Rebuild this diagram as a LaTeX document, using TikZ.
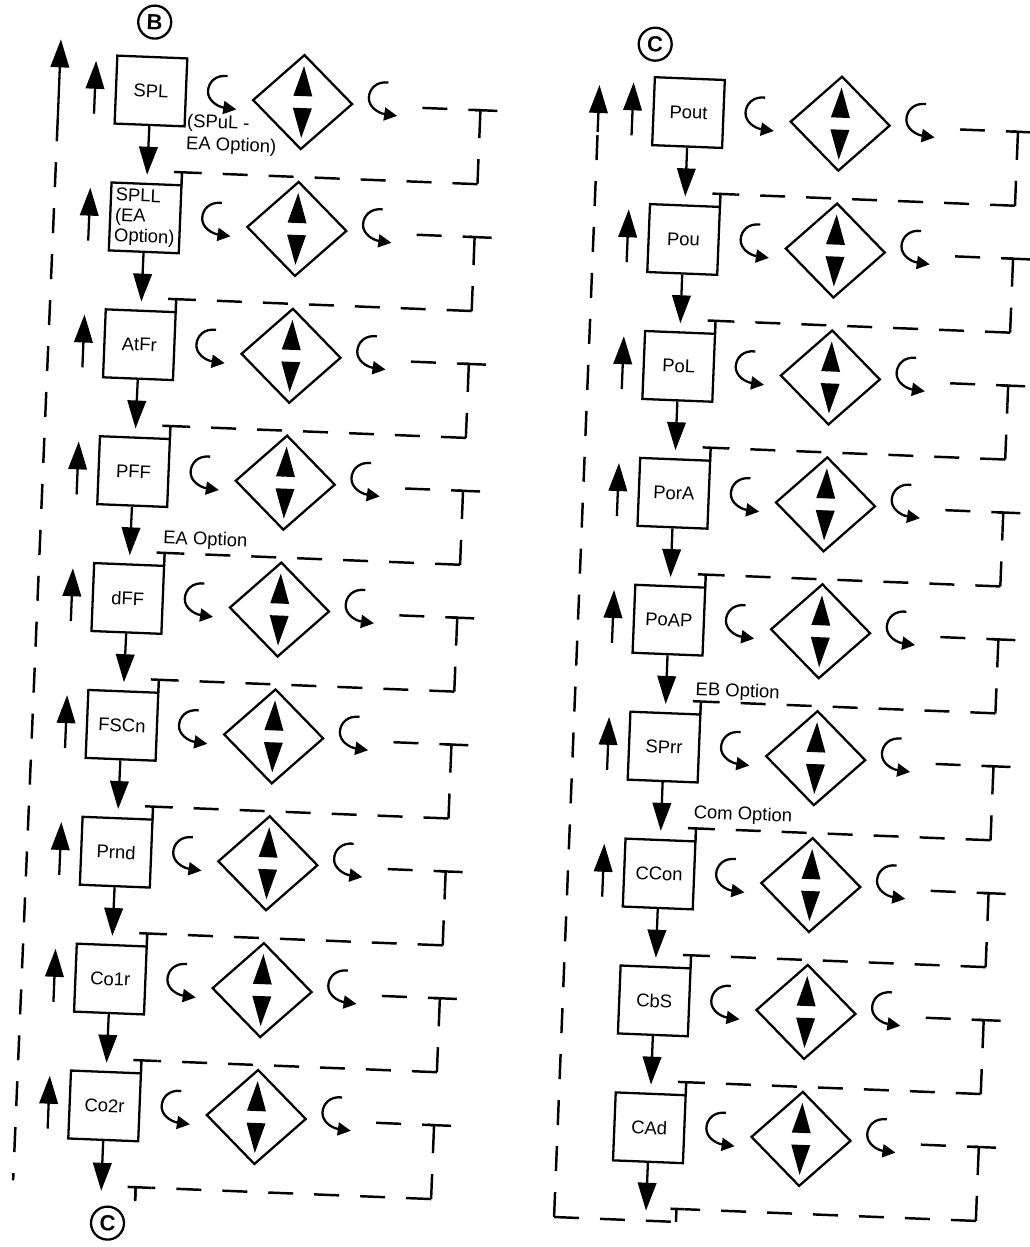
\documentclass[tikz,border=0pt]{standalone}
\usepackage{fontspec}
\setmainfont{Liberation Sans}
\usetikzlibrary{arrows.meta,shapes.geometric,calc}

\tikzset{
 bx/.style={draw, line width=1.3pt, minimum width=1.4cm, minimum height=1.36cm, inner sep=1pt,
   font=\fontsize{10.5}{11.5}\selectfont, align=left},
 dia/.style={draw, diamond, line width=1.3pt, minimum width=2cm, minimum height=1.9cm, inner sep=0pt},
 flow/.style={line width=1.3pt, -{Triangle[length=0.56cm,width=0.37cm]}},
 curv/.style={line width=1.3pt, -{Triangle[length=0.26cm,width=0.26cm]}},
 tee/.style={line width=1.4pt},
 dsh/.style={line width=1.4pt, dash pattern=on 0.5cm off 0.42cm},
 lbl/.style={font=\fontsize{10.5}{12.5}\selectfont, inner sep=0pt, align=left},
 circ/.style={draw, circle, line width=1.3pt, minimum size=0.66cm, inner sep=0pt, font=\fontsize{12.5}{12.5}\selectfont\bfseries},
}

% #1 name, #2 u, #3 v, #4 label
\newcommand{\mkrow}[4]{%
\begin{scope}[shift={(#2,#3)}]
 \node[bx] (#1) at (0,0) {#4};
 \draw[curv] (76,-18) .. controls (64,-19) and (57,-11) .. (57,-2) .. controls (57,7) and (67,13) .. (86,15);
 \node[dia] (#1d) at (152,5) {};
 \fill (152,-31) -- (161.5,-1) -- (142.5,-1) -- cycle;
 \fill (152,41) -- (161.5,11) -- (142.5,11) -- cycle;
 \draw[curv] (237,-18) .. controls (225,-19) and (218,-11) .. (218,-2) .. controls (218,7) and (228,13) .. (247,15);
 \coordinate (#1T) at (330,6);
 \coordinate (#1S) at (330,26);
 \coordinate (#1C) at (330,80);
 \draw[dsh] (272,6) -- (#1T);
 \draw[tee] (324,6) -- (347,6);
 \draw[tee] (#1T) -- (#1S);
 \draw[dsh] (#1C) -- (#1S);
\end{scope}}

% top T on the box's top right corner
\newcommand{\mktee}[3]{%
\begin{scope}[shift={(#2,#3)}]
 \coordinate (#1J) at (35,-47);
 \coordinate (#1R) at (51,-47);
 \draw[tee] (35,-34) -- (#1J);
 \draw[tee] (27,-47) -- (#1R);
\end{scope}}

% up arrow at the left of a box
\newcommand{\mkup}[3]{%
\begin{scope}[shift={(#2,#3)}]
 \coordinate (#1ua) at (-56,25);
 \coordinate (#1ub) at (-56,-28);
 \draw[flow] (#1ua) -- (#1ub);
\end{scope}}

\begin{document}
\begin{tikzpicture}[x=0.02cm, y=-0.02cm]
\useasboundingbox (0,0) rectangle (1029,1247);
\begin{scope}[rotate around={-2.3:(515,620)}, transform shape]

% ---------------- left column ----------------
\node[circ] (cB) at (131,37) {B};
\mkrow{L0}{130}{106}{SPL}
\mkrow{L1}{129.3}{233}{SPLL\\(EA\\Option)}
\mkrow{L2}{128.6}{360}{AtFr}
\mkrow{L3}{127.9}{487}{PFF}
\mkrow{L4}{127.2}{614}{dFF}
\mkrow{L5}{126.5}{741}{FSCn}
\mkrow{L6}{125.8}{868}{Prnd}
\mkrow{L7}{125.1}{995}{Co1r}
\mkrow{L8}{124.4}{1122}{Co2r}
\mktee{L1}{129.3}{233}
\mktee{L2}{128.6}{360}
\mktee{L3}{127.9}{487}
\mktee{L4}{127.2}{614}
\mktee{L5}{126.5}{741}
\mktee{L6}{125.8}{868}
\mktee{L7}{125.1}{995}
\mktee{L8}{124.4}{1122}
\mktee{L9}{123.7}{1249}
\draw[tee] (L9J) -- ++(0,14);
\foreach \i in {0,...,8}{\mkup{LU\i}{130-0.7*\i}{106+127*\i}}
\foreach \a/\b in {L0/L1,L1/L2,L2/L3,L3/L4,L4/L5,L5/L6,L6/L7,L7/L8}{
  \draw[flow, shorten >=0.16cm] (\a) -- (\b);
  \draw[dsh] (\a C) -- (\b R);
}
\draw[dsh] (L8C) -- (L9R);
\coordinate (LEnd) at (124.4,1207);
\draw[flow] (L8) -- (LEnd);
\node[circ] (cC2) at (132,1239) {C};
\coordinate (LLtop) at (38,135);
\coordinate (LLtip) at (38,58);
\coordinate (LLbot) at (36,1200);
\draw[flow] (LLtop) -- (LLtip);
\draw[dsh] (LLtop) -- (LLbot);
\node[lbl, anchor=west] (noteSPuL) at (167,147) {(SPuL -\\EA Option)};
\node[lbl, anchor=west] (noteEA) at (160,553) {EA Option};

% ---------------- right column ----------------
\node[circ] (cC1) at (632,39) {C};
\mkrow{R0}{668}{106}{Pout}
\mkrow{R1}{668.2}{233}{Pou}
\mkrow{R2}{668.4}{360}{PoL}
\mkrow{R3}{668.6}{487}{PorA}
\mkrow{R4}{668.8}{614}{PoAP}
\mkrow{R5}{669}{741}{SPrr}
\mkrow{R6}{669.2}{868}{CCon}
\mkrow{R7}{669.4}{995}{CbS}
\mkrow{R8}{669.6}{1122}{CAd}
\mktee{R1}{668.2}{233}
\mktee{R2}{668.4}{360}
\mktee{R3}{668.6}{487}
\mktee{R4}{668.8}{614}
\mktee{R5}{669}{741}
\mktee{R6}{669.2}{868}
\mktee{R7}{669.4}{995}
\mktee{R8}{669.6}{1122}
\foreach \i in {0,...,6}{\mkup{RU\i}{668+0.2*\i}{106+127*\i}}
\foreach \a/\b in {R0/R1,R1/R2,R2/R3,R3/R4,R4/R5,R5/R6,R6/R7,R7/R8}{
  \draw[flow, shorten >=0.16cm] (\a) -- (\b);
  \draw[dsh] (\a C) -- (\b R);
}
\coordinate (REnd) at (669.6,1205);
\draw[flow] (R8) -- (REnd);
% bottom loop of the right column
\coordinate (RBJ) at (700,1202);
\coordinate (RBR) at (708,1202);
\coordinate (RBfoot) at (700,1215);
\draw[tee] (694,1202) -- (RBR);
\draw[tee] (RBJ) -- (RBfoot);
\draw[dsh] (R8C) -- (RBR);
\coordinate (RLtop) at (578,129);
\coordinate (RLtip) at (578,82);
\coordinate (RLbot) at (578,1215);
\draw[flow] (RLtop) -- (RLtip);
\draw[dsh] (RLbot) -- (RLtop);
\draw[dsh] (RLbot) -- (RBfoot);
\node[lbl, anchor=west] (noteEB) at (698,683) {EB Option};
\node[lbl, anchor=west] (noteCom) at (701,806) {Com Option};

\end{scope}
\end{tikzpicture}
\end{document}
